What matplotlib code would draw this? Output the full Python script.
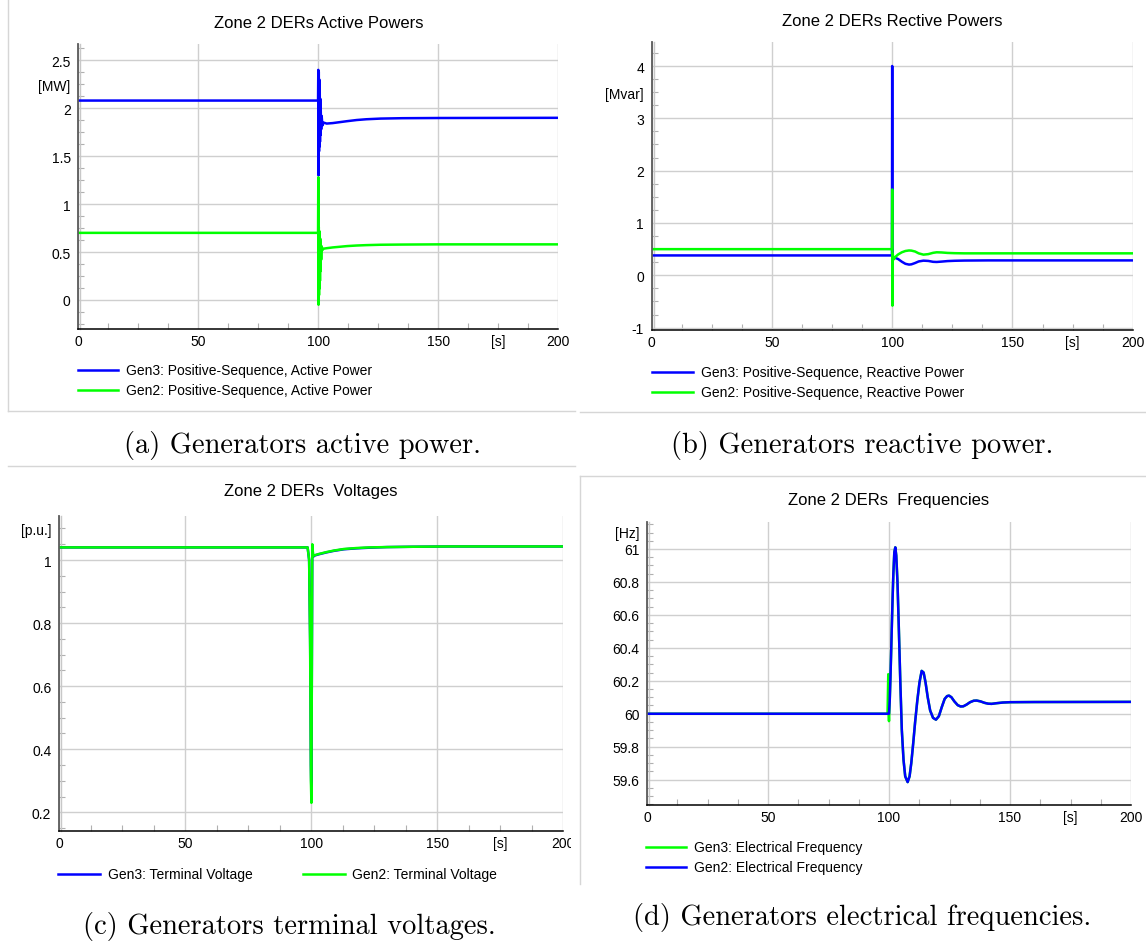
import numpy as np
import matplotlib
matplotlib.use('Agg')
import matplotlib.pyplot as plt
from matplotlib.lines import Line2D
from matplotlib.patches import Rectangle
from matplotlib.ticker import MultipleLocator
from matplotlib.transforms import offset_copy

plt.rcParams['font.family'] = ['Liberation Sans', 'DejaVu Sans']

# ---- data ----
x_ticks = [0, 50, 100, 150, 200]
x_labels = ['0', '50', '100', '150', '200']

# (a) active power [MW]
t_p = [0, 99.9, 100.0, 100.1, 100.2, 100.3, 100.4, 100.5, 100.6, 100.7, 100.8, 100.9, 101.0,
       101.2, 101.4, 101.7, 102.2, 103.5, 106.0, 109.0, 112.0, 116.0, 120.0, 126.0, 135.0, 150.0, 200.0]
p_gen3 = [2.08, 2.08, 2.40, 1.30, 2.38, 1.55, 2.30, 1.60, 2.20, 1.65, 2.10, 1.72, 2.00,
          1.78, 1.92, 1.82, 1.85, 1.84, 1.845, 1.855, 1.865, 1.877, 1.885, 1.892, 1.896, 1.898, 1.90]
p_gen2 = [0.70, 0.70, 1.28, -0.05, 0.76, 0.05, 0.72, 0.12, 0.68, 0.20, 0.64, 0.30, 0.60,
          0.42, 0.56, 0.52, 0.535, 0.54, 0.548, 0.555, 0.562, 0.568, 0.572, 0.576, 0.578, 0.58, 0.58]
p_yticks = [0, 0.5, 1, 1.5, 2, 2.5]
p_ylabels = ['0', '0.5', '1', '1.5', '2', '2.5']

# (b) reactive power [Mvar]
t_q = [0, 99.9, 100.0, 100.1, 100.25, 100.5, 101.0, 101.5, 102.5, 104.0, 105.5, 107.0, 108.0,
       109.5, 111.0, 113.0, 115.0, 117.0, 118.5, 120.5, 123.0, 126.0, 130.0, 140.0, 160.0, 200.0]
q_gen3 = [0.38, 0.38, 4.0, 0.30, 0.36, 0.34, 0.33, 0.33, 0.31, 0.26, 0.22, 0.205, 0.21,
          0.235, 0.265, 0.28, 0.275, 0.258, 0.255, 0.262, 0.272, 0.278, 0.282, 0.285, 0.285, 0.285]
q_gen2 = [0.50, 0.50, 1.64, -0.58, 0.40, 0.30, 0.33, 0.36, 0.40, 0.44, 0.465, 0.475, 0.472,
          0.455, 0.42, 0.395, 0.405, 0.43, 0.44, 0.437, 0.428, 0.423, 0.42, 0.42, 0.42, 0.42]
q_yticks = [-1, 0, 1, 2, 3, 4]
q_ylabels = ['-1', '0', '1', '2', '3', '4']

# (c) terminal voltage [p.u.]
t_v = [0, 98.6, 99.2, 99.6, 99.9, 100.1, 100.45, 100.8, 101.3, 103.0, 106.0, 109.0, 113.0,
       118.0, 123.0, 130.0, 140.0, 155.0, 200.0]
v_gen3 = [1.04, 1.04, 1.0, 0.75, 0.35, 0.26, 1.045, 1.01, 1.014, 1.018, 1.024, 1.029, 1.034,
          1.037, 1.039, 1.041, 1.042, 1.043, 1.043]
v_gen2 = [1.04, 1.04, 1.0, 0.72, 0.30, 0.23, 1.05, 1.012, 1.015, 1.019, 1.025, 1.03, 1.035,
          1.038, 1.04, 1.041, 1.042, 1.043, 1.043]
v_yticks = [0.2, 0.4, 0.6, 0.8, 1.0]
v_ylabels = ['0.2', '0.4', '0.6', '0.8', '1']

# (d) electrical frequency [Hz]
t_f = [0, 99.4, 99.7, 99.85, 100.0, 100.3, 100.6, 100.9, 101.2, 101.5, 101.8, 102.2, 102.6,
       103.0, 103.5, 104.0, 104.7, 105.3, 106.0, 106.7, 107.7, 108.5, 109.2, 110.0, 110.8,
       111.7, 112.6, 113.5, 114.3, 115.1, 116.0, 117.0, 118.2, 119.4, 120.6, 121.8, 123.0,
       124.0, 124.8, 125.8, 127.0, 128.4, 129.6, 130.7, 132.0, 133.5, 135.0, 136.2, 137.8,
       139.5, 141.0, 142.4, 144.5, 147.0, 150.0, 160.0, 200.0]
f_gen2 = [60.0, 60.0, 60.0, 60.0, 60.0, 60.08, 60.22, 60.38, 60.55, 60.71, 60.85, 60.98, 61.01,
          60.96, 60.8, 60.55, 60.18, 59.9, 59.72, 59.62, 59.585, 59.62, 59.7, 59.82, 59.95,
          60.08, 60.19, 60.26, 60.25, 60.19, 60.1, 60.02, 59.975, 59.964, 59.985, 60.04, 60.09,
          60.107, 60.11, 60.1, 60.075, 60.052, 60.044, 60.045, 60.055, 60.07, 60.079, 60.08, 60.075,
          60.066, 60.061, 60.06, 60.064, 60.068, 60.07, 60.071, 60.072]
# Gen3 sits under Gen2 except for the small spike at the fault instant
f_gen3 = [60.0, 60.0, 60.24, 60.0, 59.955] + f_gen2[5:]
f_yticks = [59.6, 59.8, 60.0, 60.2, 60.4, 60.6, 60.8, 61.0]
f_ylabels = ['59.6', '59.8', '60', '60.2', '60.4', '60.6', '60.8', '61']

BLUE = '#0000ff'
GREEN = '#00ff00'
LW = 1.8

W, H = 1146, 945
fig = plt.figure(figsize=(W / 100, H / 100), dpi=100)


def fx(x):
    return x / W


def fy(y):
    return 1 - y / H


def make_axes(left, top, right, bottom):
    return fig.add_axes([fx(left), fy(bottom), fx(right) - fx(left), fy(top) - fy(bottom)])


def style(ax, ylim, yticks, ylabels, yminor, unit, unit_y):
    ax.set_xlim(0, 200)
    ax.set_ylim(*ylim)
    ax.set_xticks(x_ticks)
    ax.set_xticklabels(x_labels)
    ax.set_yticks(yticks)
    ax.set_yticklabels(ylabels)
    ax.xaxis.set_minor_locator(MultipleLocator(12.5))
    ax.yaxis.set_minor_locator(MultipleLocator(yminor))
    ax.grid(True, which='major', color='#cfcfcf', lw=1.0)
    ax.set_axisbelow(True)
    ax.tick_params(which='major', length=0, labelsize=10, colors='#000000')
    ax.tick_params(axis='y', which='major', pad=5.5)
    ax.tick_params(axis='x', which='major', pad=3.5)
    ax.tick_params(which='minor', direction='in', length=4.5, width=0.8, color='#b0b0b0')
    for s in ['top', 'right']:
        ax.spines[s].set_visible(False)
    ax.spines['left'].set_color('#5a5a5a')
    ax.spines['left'].set_linewidth(1.3)
    ax.spines['bottom'].set_color('#000000')
    ax.spines['bottom'].set_linewidth(1.1)
    shade = offset_copy(ax.transAxes, fig=fig, x=1.8, y=0, units='dots')
    ax.plot([0, 0], [0, 1], transform=shade, color='#c8c8c8', lw=1.0, clip_on=False, zorder=1)
    ax.annotate(unit, xy=(0, unit_y), xycoords=('axes fraction', 'data'), xytext=(-5.5, 0),
                textcoords='offset points', ha='right', va='center_baseline', fontsize=10)
    ax.annotate('[s]', xy=(175, 0), xycoords=('data', 'axes fraction'), xytext=(0, -3.5),
                textcoords='offset points', ha='center', va='top', fontsize=10)


def legend_entry(x1, x2, tx, y, color, label):
    fig.add_artist(Line2D([fx(x1), fx(x2)], [fy(y), fy(y)], transform=fig.transFigure,
                          color=color, lw=LW))
    fig.text(fx(tx), fy(y), label, va='center', ha='left', fontsize=10)


def border(x1, y1, x2, y2):
    fig.add_artist(Line2D([fx(x1), fx(x2)], [fy(y1), fy(y2)], transform=fig.transFigure,
                          color='#d6d6d6', lw=1.0))


# panel frames
border(8, 0, 8, 412)
border(8, 412, 575, 412)
border(580, 413, 1146, 413)
border(8, 467, 575, 467)
border(580, 477, 580, 885)
border(580, 477, 1146, 477)

# (a)
ax1 = make_axes(78.3, 45, 558.3, 330.3)
ax1.plot(t_p, p_gen3, color=BLUE, lw=LW)
ax1.plot(t_p, p_gen2, color=GREEN, lw=LW)
style(ax1, (-0.306, 2.67), p_yticks, p_ylabels, 0.125, '[MW]', 2.25)
fig.text(fx(318.3), fy(24), 'Zone 2 DERs Active Powers', ha='center', va='center', fontsize=12)
legend_entry(78, 118, 125.5, 371, BLUE, 'Gen3: Positive-Sequence, Active Power')
legend_entry(78, 118, 125.5, 391, GREEN, 'Gen2: Positive-Sequence, Active Power')

# (b)
ax2 = make_axes(651.7, 43.3, 1132.7, 331)
ax2.plot(t_q, q_gen3, color=BLUE, lw=LW)
ax2.plot(t_q, q_gen2, color=GREEN, lw=LW)
style(ax2, (-1.045, 4.453), q_yticks, q_ylabels, 0.25, '[Mvar]', 3.5)
fig.text(fx(892), fy(21), 'Zone 2 DERs Rective Powers', ha='center', va='center', fontsize=12)
legend_entry(652.5, 693, 701, 373, BLUE, 'Gen3: Positive-Sequence, Reactive Power')
legend_entry(652.5, 693, 701, 393, GREEN, 'Gen2: Positive-Sequence, Reactive Power')

# (c)
ax3 = make_axes(59, 516.7, 563.3, 832)
ax3.plot(t_v, v_gen3, color=BLUE, lw=LW)
ax3.plot(t_v, v_gen2, color=GREEN, lw=LW)
style(ax3, (0.1407, 1.1405), v_yticks, v_ylabels, 0.05, '[p.u.]', 1.1)
fig.text(fx(311), fy(491.7), 'Zone 2 DERs  Voltages', ha='center', va='center', fontsize=12)
legend_entry(58, 100, 108.5, 875, BLUE, 'Gen3: Terminal Voltage')
legend_entry(302.5, 344.5, 352, 875, GREEN, 'Gen2: Terminal Voltage')
# the screenshot of (c) is cut on the right, through the "200" label
ax3.set_xticklabels(x_labels[:-1] + [''])
cut = Rectangle((0, 0), fx(571), 1, transform=fig.transFigure)
lbl = ax3.annotate('200', xy=(200, 0), xycoords=('data', 'axes fraction'), xytext=(0, -3.5),
                   textcoords='offset points', ha='center', va='top', fontsize=10)
lbl.set_clip_on(True)
lbl.set_clip_path(cut)

# (d)
ax4 = make_axes(647, 523.3, 1131, 806)
ax4.plot(t_f, f_gen3, color=GREEN, lw=LW)
ax4.plot(t_f, f_gen2, color=BLUE, lw=LW)
style(ax4, (59.446, 61.162), f_yticks, f_ylabels, 0.05, '[Hz]', 61.105)
fig.text(fx(889), fy(500.7), 'Zone 2 DERs  Frequencies', ha='center', va='center', fontsize=12)
legend_entry(645.5, 686, 693.5, 847.7, GREEN, 'Gen3: Electrical Frequency')
legend_entry(645.5, 686, 693.5, 867.7, BLUE, 'Gen2: Electrical Frequency')

# captions
cap = dict(ha='center', va='center', fontsize=20.5, fontfamily='cmr10')
fig.text(fx(303), fy(446), '(a) Generators active power.', **cap)
fig.text(fx(862), fy(446), '(b) Generators reactive power.', **cap)
fig.text(fx(289), fy(927), '(c) Generators terminal voltages.', **cap)
fig.text(fx(862), fy(918), '(d) Generators electrical frequencies.', **cap)

fig.savefig('out.png', dpi=100, facecolor='white')
